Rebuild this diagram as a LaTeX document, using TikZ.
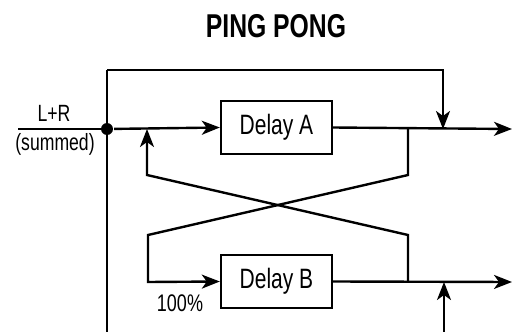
\documentclass[tikz,border=0pt]{standalone}
\usepackage{fontspec}
\setmainfont{Liberation Sans}[FakeStretch=0.75]
\usetikzlibrary{arrows.meta}
\begin{document}
\begin{tikzpicture}[x=1pt,y=-1pt, line width=2.4pt,
  sig/.style={-{Stealth[length=18pt,width=14pt,inset=5pt]}},
  dbox/.style={draw, minimum width=111pt, minimum height=53pt, inner sep=0pt, font=\fontsize{28}{30}\selectfont},
  lbl/.style={anchor=base, inner sep=0pt}]
\useasboundingbox (0,0) rectangle (512,332);
\node[lbl, font=\bfseries\fontsize{33}{36}\selectfont] (title) at (276,37) {PING PONG};
\node[dbox] (A) at (276.5,127.5) {Delay A};
\node[dbox] (B) at (276.5,281.5) {Delay B};
\coordinate (in) at (18,129);
\coordinate (tl) at (107,70);
\coordinate (tr) at (443,70);
\coordinate (mixA) at (443,129);
\coordinate (bot) at (107,332);
\coordinate (tapA) at (408,129);
\coordinate (tapB) at (408,282);
\coordinate (fbA) at (147,129);
\coordinate (outA) at (512,129);
\coordinate (outB) at (512,282);
\coordinate (mixB) at (444,282);
\coordinate (botB) at (444,332);
\node[lbl, font=\fontsize{23.5}{26}\selectfont] (lr) at (54,121.5) {L+R};
\node[lbl, font=\fontsize{23.5}{26}\selectfont] (sum) at (55,150) {(summed)};
\node[lbl, font=\fontsize{24}{26}\selectfont] (pct) at (180,311) {100\%};
\draw (tl) -- (bot);
\draw[sig] (tl) -- (tr) -- (mixA);
\draw (in) -- (107,129);
\node[circle, fill, inner sep=0pt, minimum size=12pt] (J) at (107,129) {};
\draw[sig] (J) -- (A.west);
\draw[sig] (A.east) -- (outA);
\draw[sig] (B.east) -- (outB);
\draw[sig] (tapA) -- (408,175) -- (148,235) -- (148,282) -- (B.west);
\draw[sig] (tapB) -- (408,235) -- (147,175) -- (fbA);
\draw[sig] (botB) -- (mixB);
\end{tikzpicture}
\end{document}
